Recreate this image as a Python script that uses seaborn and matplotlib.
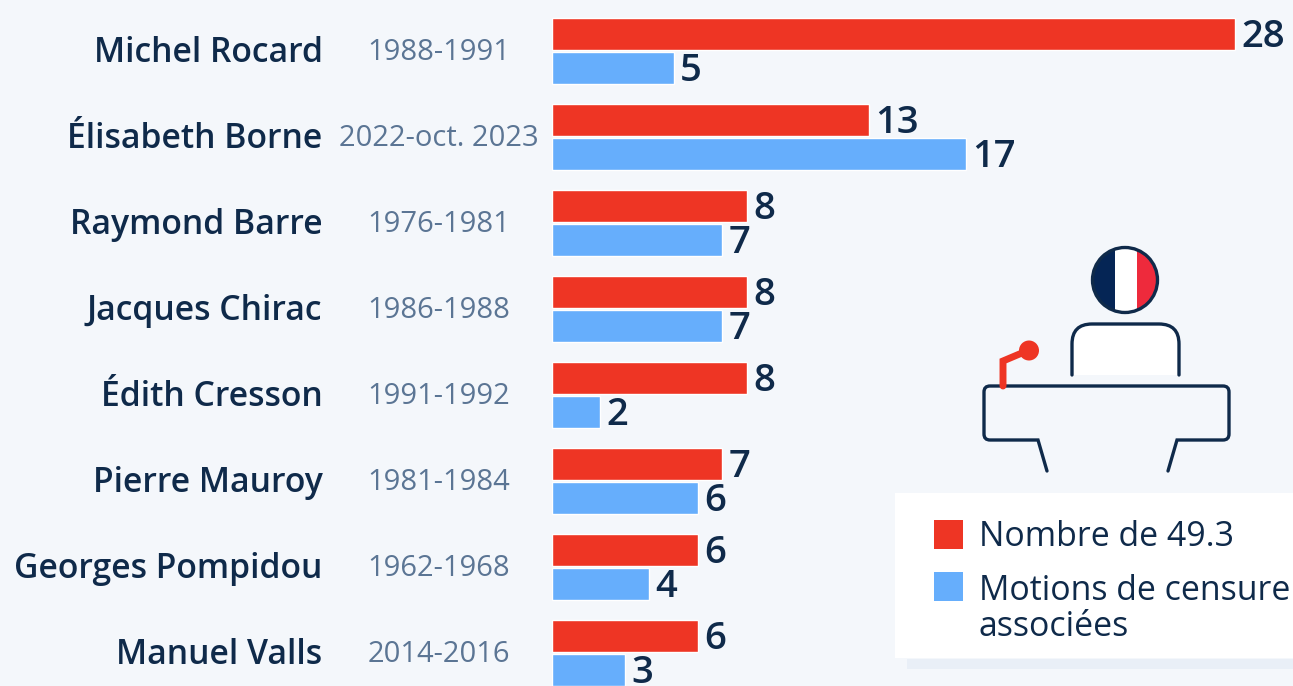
import pandas as pd
import seaborn as sns
import matplotlib.pyplot as plt
from matplotlib.patches import Circle, Rectangle, PathPatch
from matplotlib.path import Path
from matplotlib.transforms import ScaledTranslation

names = ["Michel Rocard", "Élisabeth Borne", "Raymond Barre", "Jacques Chirac",
         "Édith Cresson", "Pierre Mauroy", "Georges Pompidou", "Manuel Valls"]
years = ["1988-1991", "2022-oct. 2023", "1976-1981", "1986-1988",
         "1991-1992", "1981-1984", "1962-1968", "2014-2016"]
nb_493 = [28, 13, 8, 8, 8, 7, 6, 6]
motions = [5, 17, 7, 7, 2, 6, 4, 3]
serie_labels = ["Nombre de 49.3", "Motions de censure\nassociées"]

BG = "#f4f7fb"
RED = "#ee3524"
BLUE = "#66aefc"
DARK = "#0f2a4a"
GREY = "#5b7594"
W, H = 1293, 686
X0 = 551.5

sns.set_theme(style="white")
plt.rcParams["font.family"] = ["Open Sans", "DejaVu Sans"]

df = pd.DataFrame({"name": names, serie_labels[0]: nb_493, serie_labels[1]: motions})
df = df.melt(id_vars="name", var_name="serie", value_name="valeur")

fig = plt.figure(figsize=(W / 100, H / 100), dpi=100, facecolor=BG)
ax = fig.add_axes([X0 / W, 0, 1 - X0 / W, 1], facecolor="none")
sns.barplot(data=df, y="name", x="valeur", hue="serie", hue_order=serie_labels,
            palette=[RED, BLUE], width=0.79, gap=0.06, saturation=1,
            legend=False, ax=ax, errorbar=None)
ax.set_xlim(0, (W - X0) / 24.4)
ax.set_ylim((H - 51) / 86, -51 / 86)
ax.set_xlabel("")
ax.set_ylabel("")
ax.xaxis.set_visible(False)
sns.despine(ax=ax, left=True, bottom=True)
ax.tick_params(axis="y", length=0, pad=(X0 - 322.5) * 0.72)
for lab in ax.get_yticklabels():
    lab.set_fontsize(24.3)
    lab.set_fontweight(600)
    lab.set_color(DARK)
    lab.set_transform(lab.get_transform() + ScaledTranslation(0, 2 / 100, fig.dpi_scale_trans))

for cont in ax.containers:
    for t in ax.bar_label(cont, padding=4.5, fontsize=27.5, fontweight=600, color=DARK, clip_on=False):
        t.xyann = (t.xyann[0], -2.5)

tr = ax.get_yaxis_transform()
for i, y in enumerate(years):
    ax.text(-113 / (W - X0), i + 1.5 / 86, y, transform=tr, ha="center", va="center",
            fontsize=21, color=GREY, clip_on=False)

# overlay en pixels pour le pictogramme et le cadre de legende
ov = fig.add_axes([0, 0, 1, 1], facecolor="none")
ov.set_xlim(0, W)
ov.set_ylim(H, 0)
ov.axis("off")

ov.add_patch(Rectangle((907, 659), W - 907, 10, fc="#e9eff7", ec="none"))
ov.add_patch(Rectangle((895, 493), W - 895, 165, fc="white", ec="none"))

# tete drapeau
clip = Circle((1125, 280), 33, transform=ov.transData)
for x0, x1, c in [(1090, 1115, "#052555"), (1115, 1137, "white"), (1137, 1160, "#ee2a3c")]:
    r = Rectangle((x0, 245), x1 - x0, 70, fc=c, ec="none")
    ov.add_patch(r)
    r.set_clip_path(clip)
ov.add_patch(Circle((1125, 280), 32.5, fc="none", ec=DARK, lw=2.4))

# corps
corps = Path([(1072, 375), (1072, 344), (1072, 324), (1092, 324), (1159, 324),
              (1179, 324), (1179, 344), (1179, 375)],
             [Path.MOVETO, Path.LINETO, Path.CURVE3, Path.CURVE3, Path.LINETO,
              Path.CURVE3, Path.CURVE3, Path.LINETO])
ov.add_patch(PathPatch(corps, fc="white", ec="none"))
ov.add_patch(PathPatch(corps, fc="none", ec=DARK, lw=2.4, capstyle="round"))

# micro
ov.plot([1003, 1003, 1029], [386, 361, 350], color=RED, lw=5, solid_joinstyle="miter")
ov.add_patch(Circle((1029, 350.5), 10, fc=RED, ec="none"))

# pupitre
pupitre = Path([(1047, 471), (1038, 440), (990, 440), (984, 440), (984, 434), (984, 392),
                (984, 386), (990, 386), (1223, 386), (1229, 386), (1229, 392), (1229, 434),
                (1229, 440), (1223, 440), (1177, 440), (1168, 471)],
               [Path.MOVETO, Path.LINETO, Path.LINETO, Path.CURVE3, Path.CURVE3, Path.LINETO,
                Path.CURVE3, Path.CURVE3, Path.LINETO, Path.CURVE3, Path.CURVE3, Path.LINETO,
                Path.CURVE3, Path.CURVE3, Path.LINETO, Path.LINETO])
ov.add_patch(PathPatch(pupitre, fc="none", ec=DARK, lw=2.4, capstyle="round"))

# legende
for y0, c, lab, dy in [(520, RED, serie_labels[0], 0.5), (572, BLUE, serie_labels[1], 1.5)]:
    ov.add_patch(Rectangle((934, y0), 29, 29, fc=c, ec="none"))
    ov.text(979, y0 + dy, lab, va="top", ha="left", fontsize=24.4, color=DARK, linespacing=1.08)

fig.savefig("out.png", dpi=100, facecolor=BG)
